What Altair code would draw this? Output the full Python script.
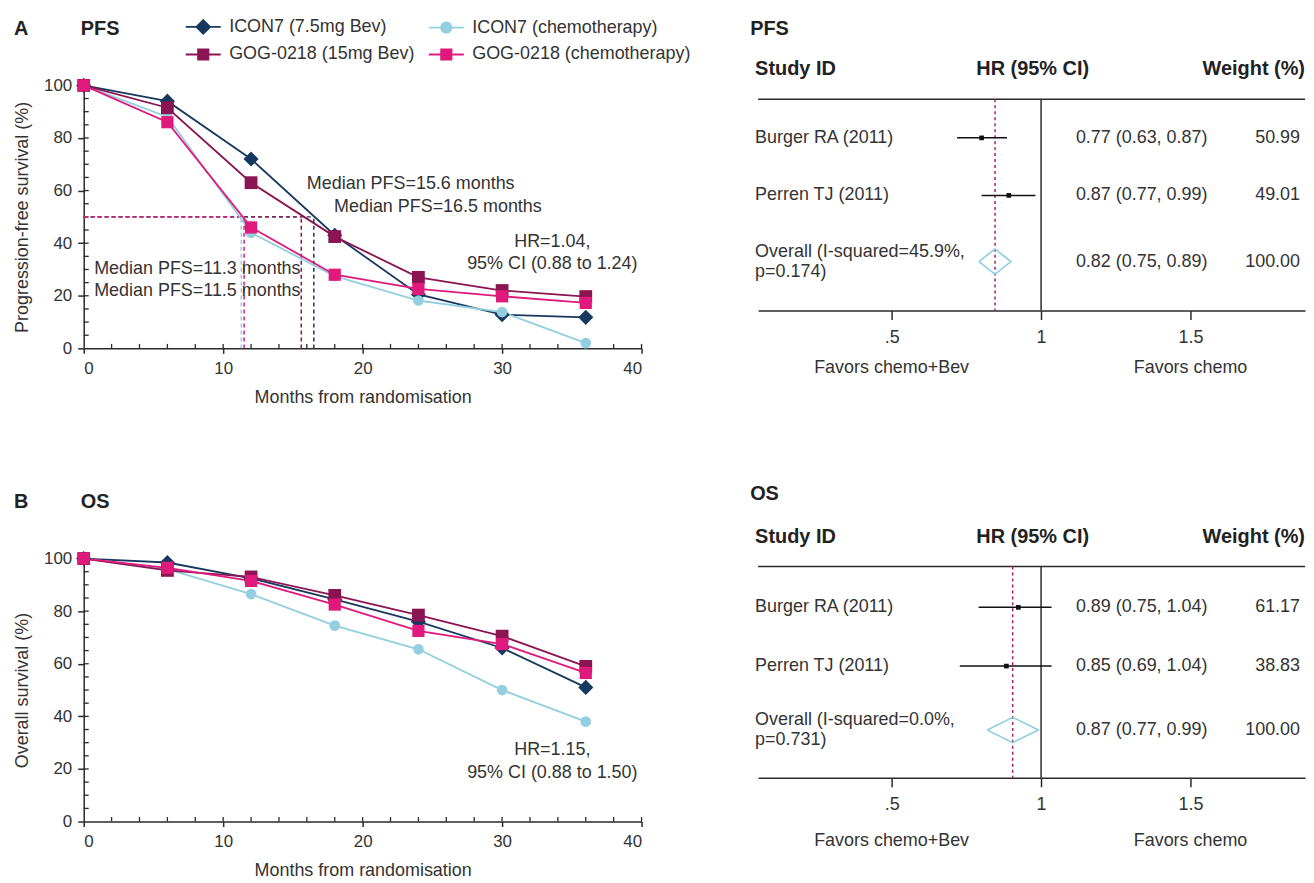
import altair as alt
import pandas as pd

# ---------------- data ----------------
SERIES = ["ICON7 (7.5mg Bev)", "ICON7 (chemotherapy)", "GOG-0218 (15mg Bev)", "GOG-0218 (chemotherapy)"]
COLORS = ["#17395f", "#93cfdf", "#8b1452", "#e0197c"]
MARKERS = ["diamond", "circle", "square", "square"]
MARKER_SIZES = [230, 115, 165, 150]
LEGEND_GLYPHS = [
    "M-2.7,0H2.7M-1.05,0L0,-1.05L1.05,0L0,1.05Z",
    "M-2.7,0H2.7M-0.8,0A0.8,0.8,0,1,1,0.8,0A0.8,0.8,0,1,1,-0.8,0Z",
    "M-2.7,0H2.7M-0.8,-0.8H0.8V0.8H-0.8Z",
    "M-2.7,0H2.7M-0.8,-0.8H0.8V0.8H-0.8Z",
]
LEGEND_ORDER = [0, 2, 1, 3]  # column-wise fill -> rows: ICON7 pair, GOG pair

MONTHS = [0, 6, 12, 18, 24, 30, 36]

PFS_ICON7_BEV = [100, 94, 72, 43, 20.5, 12.8, 11.8]
PFS_ICON7_CHEMO = [100, 88, 44, 27.5, 18.2, 13.8, 2]
PFS_GOG_BEV = [100, 91.5, 63, 42.5, 27, 22, 19.7]
PFS_GOG_CHEMO = [100, 86, 46, 28, 22.6, 19.8, 17.3]

OS_ICON7_BEV = [100, 98.5, 92.5, 84.5, 76, 66, 51]
OS_ICON7_CHEMO = [100, 96, 86.5, 74.5, 65.5, 50, 38]
OS_GOG_BEV = [100, 95.5, 93, 86, 78.5, 70.5, 59]
OS_GOG_CHEMO = [100, 96.5, 91.5, 82.5, 72.5, 67.5, 56.5]

PFS_MEDIANS = [16.5, 11.3, 15.6, 11.5]
MEDIAN_LEVEL = 50

PFS_NOTE_TEXT = ["Median PFS=15.6 months", "Median PFS=16.5 months",
                 "Median PFS=11.3 months", "Median PFS=11.5 months"]
PFS_NOTE_MONTH = [16.0, 17.95, 0.75, 0.75]
PFS_NOTE_PCT = [62.5, 53.8, 30.0, 21.8]

PFS_HR_TEXT = ["HR=1.04,", "95% CI (0.88 to 1.24)"]
PFS_HR_MONTH = [33.6, 33.6]
PFS_HR_PCT = [40.3, 32.0]
OS_HR_TEXT = ["HR=1.15,", "95% CI (0.88 to 1.50)"]
OS_HR_MONTH = [33.6, 33.6]
OS_HR_PCT = [27.2, 18.4]

X_MAJOR = [0, 10, 20, 30, 40]
Y_MAJOR = [0, 20, 40, 60, 80, 100]
X_INNER_TICKS = list(range(2, 41, 2))
Y_INNER_TICKS = list(range(5, 101, 5))

# forest plots
PFS_ROW_POS = [1, 2, 3.15]
PFS_STUDIES = ["Burger RA (2011)", "Perren TJ (2011)"]
PFS_OVERALL = "Overall (I-squared=45.9%,\np=0.174)"
PFS_EST = [0.801, 0.892]
PFS_LO = [0.719, 0.801]
PFS_HI = [0.886, 0.981]
PFS_POOLED = [0.792, 0.846, 0.899]  # lo, est, hi
PFS_HR_COL = ["0.77 (0.63, 0.87)", "0.87 (0.77, 0.99)", "0.82 (0.75, 0.89)"]
PFS_WEIGHTS = ["50.99", "49.01", "100.00"]

OS_ROW_POS = [1.04, 2.06, 3.17]
OS_STUDIES = ["Burger RA (2011)", "Perren TJ (2011)"]
OS_OVERALL = "Overall (I-squared=0.0%,\np=0.731)"
OS_EST = [0.924, 0.884]
OS_LO = [0.791, 0.728]
OS_HI = [1.035, 1.035]
OS_POOLED = [0.82, 0.905, 0.991]
OS_HR_COL = ["0.89 (0.75, 1.04)", "0.85 (0.69, 1.04)", "0.87 (0.77, 0.99)"]
OS_WEIGHTS = ["61.17", "38.83", "100.00"]

FOREST_TICKS = [0.5, 1, 1.5]
FAVORS = ["Favors chemo+Bev", "Favors chemo"]
FAVORS_AT = [0.5, 1.5]

# ---------------- style ----------------
FONT = "Liberation Sans"
TXT = "#333333"
AX = "#2a2a2a"
KM_W, KM_H = 560, 264
F_W, F_H = 549, 226
FX_DOMAIN = [0.0533, 1.883]
FY_DOMAIN = [0.088, 4.0]
FY_TOP_LINE = 0.33
DIAMOND_HALF = 0.22


def text_layer(txt, x_px, y_px, size=18, bold=False, align="left"):
    return alt.Chart(pd.DataFrame({"t": [txt]})).mark_text(
        align=align, baseline="middle", fontSize=size,
        fontWeight="bold" if bold else "normal", color="#222222" if bold else TXT,
    ).encode(x=alt.value(x_px), y=alt.value(y_px), text="t:N")


def long_df(series_values):
    rows = []
    for i, (s, vals) in enumerate(zip(SERIES, series_values)):
        for m, v in zip(MONTHS, vals):
            rows.append({"series": s, "k": i, "month": m, "value": v})
    return pd.DataFrame(rows)


def km_panel(letter, name, series_values, ytitle, hr_text, hr_month, hr_pct,
             medians=None, notes=None):
    df = long_df(series_values)
    xs = alt.Scale(domain=[0, 40], nice=False, zero=False)
    ys = alt.Scale(domain=[0, 100], nice=False)

    x_axis = alt.Axis(values=X_MAJOR, tickSize=5, tickWidth=1.5, tickColor=AX,
                      domainColor=AX, domainWidth=1.5, labelFontSize=17,
                      labelPadding=7, labelColor=TXT, title="Months from randomisation",
                      titleFontSize=18, titleFontWeight="normal", titleColor=TXT,
                      titlePadding=12, grid=False)
    y_axis = alt.Axis(values=Y_MAJOR, tickSize=6, tickWidth=1.5, tickColor=AX,
                      domainColor=AX, domainWidth=1.5, labelFontSize=17,
                      labelPadding=6, labelColor=TXT, title=ytitle,
                      titleFontSize=18, titleFontWeight="normal", titleColor=TXT,
                      titlePadding=12, grid=False)

    def X(f):
        return alt.X(f, scale=xs, axis=x_axis)

    def Y(f):
        return alt.Y(f, scale=ys, axis=y_axis)

    layers = []
    # inner ticks
    xt = pd.DataFrame({"m": X_INNER_TICKS, "a": 0, "b": 1.7})
    yt = pd.DataFrame({"v": Y_INNER_TICKS, "a": 0, "b": 0.36})
    layers.append(alt.Chart(xt).mark_rule(color=AX, strokeWidth=1.3).encode(
        x=X("m:Q"), y=Y("a:Q"), y2="b:Q"))
    layers.append(alt.Chart(yt).mark_rule(color=AX, strokeWidth=1.3).encode(
        y=Y("v:Q"), x=X("a:Q"), x2="b:Q"))

    if medians is not None:
        md = pd.DataFrame({"series": SERIES, "median": medians,
                           "level": MEDIAN_LEVEL, "zero": 0})
        for i, s in enumerate(SERIES):
            one = md[md["series"] == s]
            layers.append(alt.Chart(one).mark_rule(
                strokeWidth=1.5, strokeDash=[4, 3], color=COLORS[i]).encode(
                x=X("zero:Q"), x2="median:Q", y=Y("level:Q")))
        for i, s in enumerate(SERIES):
            one = md[md["series"] == s]
            layers.append(alt.Chart(one).mark_rule(
                strokeWidth=1.5, strokeDash=[4, 3], color=COLORS[i]).encode(
                x=X("median:Q"), y=Y("zero:Q"), y2="level:Q"))

    for i, s in enumerate(SERIES):
        sdf = df[df["series"] == s]
        layers.append(alt.Chart(sdf).mark_line(strokeWidth=1.8, color=COLORS[i]).encode(
            x=X("month:Q"), y=Y("value:Q")))

    for i, s in enumerate(SERIES):
        sdf = df[df["series"] == s]
        layers.append(alt.Chart(sdf).mark_point(
            filled=True, opacity=1, shape=MARKERS[i], size=MARKER_SIZES[i], color=COLORS[i]
        ).encode(x=X("month:Q"), y=Y("value:Q")))

    leg_domain = [SERIES[i] for i in LEGEND_ORDER]
    leg_colors = [COLORS[i] for i in LEGEND_ORDER]
    leg_glyphs = [LEGEND_GLYPHS[i] for i in LEGEND_ORDER]
    leg = alt.Legend(title=None, orient="none", legendX=111, legendY=-68, columns=2,
                     symbolSize=169, symbolStrokeWidth=1.8, symbolOpacity=1,
                     labelFontSize=18, labelColor=TXT, labelLimit=400, labelOffset=17,
                     columnPadding=9, rowPadding=8, padding=0)
    ldf = df[df["month"] == 0]
    layers.append(alt.Chart(ldf).mark_point(filled=True, strokeWidth=1.8, opacity=1).encode(
        x=X("month:Q"), y=Y("value:Q"),
        fill=alt.Fill("series:N", scale=alt.Scale(domain=leg_domain, range=leg_colors), legend=leg),
        stroke=alt.Stroke("series:N", scale=alt.Scale(domain=leg_domain, range=leg_colors), legend=leg),
        shape=alt.Shape("series:N", scale=alt.Scale(domain=leg_domain, range=leg_glyphs), legend=leg),
        size=alt.value(0)))

    if notes is not None:
        nd = pd.DataFrame({"t": notes[0], "x": notes[1], "y": notes[2]})
        layers.append(alt.Chart(nd).mark_text(align="left", baseline="middle", fontSize=18,
                                              color=TXT).encode(
            x=X("x:Q"), y=Y("y:Q"), text="t:N"))

    hd = pd.DataFrame({"t": hr_text, "x": hr_month, "y": hr_pct})
    layers.append(alt.Chart(hd).mark_text(align="center", baseline="middle", fontSize=18,
                                          color=TXT).encode(
        x=X("x:Q"), y=Y("y:Q"), text="t:N"))

    layers.append(text_layer(letter, -70, -57, size=20, bold=True))
    layers.append(text_layer(name, -3, -57, size=20, bold=True))

    return alt.layer(*layers).properties(width=KM_W, height=KM_H)


def forest_panel(name, rows, studies, overall, est, lo, hi, pooled, hr_col, weights,
                 title_y, head_y, fav_y):
    fx = alt.Scale(domain=FX_DOMAIN, nice=False, zero=False)
    fy = alt.Scale(domain=FY_DOMAIN, reverse=True, nice=False, zero=False)
    bottom_axis = alt.Axis(orient="bottom", values=FOREST_TICKS, format="~g",
                           labelExpr="datum.value == 0.5 ? '.5' : datum.label",
                           tickSize=9, tickWidth=1.5, tickColor=AX, domainColor=AX,
                           domainWidth=1.5, labelFontSize=18, labelPadding=9,
                           labelColor=TXT, title=None, grid=False)

    def X(f):
        return alt.X(f, scale=fx, axis=bottom_axis)

    def Y(f):
        return alt.Y(f, scale=fy, axis=None)

    sd = pd.DataFrame({"row": rows[:2], "est": est, "lo": lo, "hi": hi, "label": studies})
    r = rows[2]
    dd = pd.DataFrame({"k": [0, 1, 2, 3, 4],
                       "x": [pooled[0], pooled[1], pooled[2], pooled[1], pooled[0]],
                       "y": [r, r - DIAMOND_HALF, r, r + DIAMOND_HALF, r]})
    od = pd.DataFrame({"row": [r], "label": [overall]})
    td = pd.DataFrame({"row": rows, "hr": hr_col, "w": weights})
    fd = pd.DataFrame({"v": FAVORS_AT, "t": FAVORS})
    vlines = pd.DataFrame({"v": [1, pooled[1]], "a": FY_TOP_LINE, "b": FY_DOMAIN[1]})

    layers = [
        alt.Chart(vlines.iloc[[0]]).mark_rule(color=AX, strokeWidth=1.5).encode(
            x=X("v:Q"), y=Y("a:Q"), y2="b:Q"),
        alt.Chart(pd.DataFrame({"v": [FY_TOP_LINE]})).mark_rule(color=AX, strokeWidth=1.5).encode(
            y=Y("v:Q")),
        alt.Chart(vlines.iloc[[1]]).mark_rule(
            color="#a2226a", strokeWidth=1.5, strokeDash=[3, 3]).encode(
            x=X("v:Q"), y=Y("a:Q"), y2="b:Q"),
        alt.Chart(sd).mark_rule(color="#111111", strokeWidth=1.5).encode(
            x=X("lo:Q"), x2="hi:Q", y=Y("row:Q")),
        alt.Chart(sd).mark_square(color="#111111", size=22, opacity=1).encode(
            x=X("est:Q"), y=Y("row:Q")),
        alt.Chart(dd).mark_line(color="#8ccfdf", strokeWidth=1.6).encode(
            x=X("x:Q"), y=Y("y:Q"), order="k:Q"),
        alt.Chart(sd).mark_text(align="left", baseline="middle", fontSize=18, color=TXT).encode(
            x=alt.value(-3), y=Y("row:Q"), text="label:N"),
        alt.Chart(od).mark_text(align="left", baseline="middle", fontSize=18, color=TXT,
                                lineBreak="\n", dy=-10).encode(
            x=alt.value(-3), y=Y("row:Q"), text="label:N"),
        alt.Chart(td).mark_text(align="left", baseline="middle", fontSize=18, color=TXT).encode(
            x=alt.value(319), y=Y("row:Q"), text="hr:N"),
        alt.Chart(td).mark_text(align="right", baseline="middle", fontSize=18, color=TXT).encode(
            x=alt.value(F_W - 5), y=Y("row:Q"), text="w:N"),
        alt.Chart(fd).mark_text(align="center", baseline="middle", fontSize=18, color=TXT).encode(
            x=X("v:Q"), y=alt.value(fav_y), text="t:N"),
        text_layer(name, -8, title_y, size=20, bold=True),
        text_layer("Study ID", -3, head_y, size=20, bold=True),
        text_layer("HR (95% CI)", 219, head_y, size=20, bold=True),
        text_layer("Weight (%)", F_W, head_y, size=20, bold=True, align="right"),
    ]
    return alt.layer(*layers).properties(width=F_W, height=F_H)


km_a = km_panel("A", "PFS", [PFS_ICON7_BEV, PFS_ICON7_CHEMO, PFS_GOG_BEV, PFS_GOG_CHEMO],
                "Progression-free survival (%)", PFS_HR_TEXT, PFS_HR_MONTH, PFS_HR_PCT,
                medians=PFS_MEDIANS, notes=(PFS_NOTE_TEXT, PFS_NOTE_MONTH, PFS_NOTE_PCT))
km_b = km_panel("B", "OS", [OS_ICON7_BEV, OS_ICON7_CHEMO, OS_GOG_BEV, OS_GOG_CHEMO],
                "Overall survival (%)", OS_HR_TEXT, OS_HR_MONTH, OS_HR_PCT)

f_a = forest_panel("PFS", PFS_ROW_POS, PFS_STUDIES, PFS_OVERALL, PFS_EST, PFS_LO, PFS_HI,
                   PFS_POOLED, PFS_HR_COL, PFS_WEIGHTS, title_y=-57, head_y=-16, fav_y=284)
f_b = forest_panel("OS", OS_ROW_POS, OS_STUDIES, OS_OVERALL, OS_EST, OS_LO, OS_HI,
                   OS_POOLED, OS_HR_COL, OS_WEIGHTS, title_y=-59, head_y=-16, fav_y=290)

left = alt.vconcat(km_a, km_b, spacing=86)
right = alt.vconcat(f_a, f_b, spacing=107)

chart = alt.hconcat(left, right, spacing=108).properties(
    padding={"left": 5, "top": 8, "right": 0, "bottom": 0}
).configure(font=FONT).configure_view(stroke=None).configure_axis(grid=False)

chart.save("out.html", embed_options={"renderer": "svg", "actions": False})
